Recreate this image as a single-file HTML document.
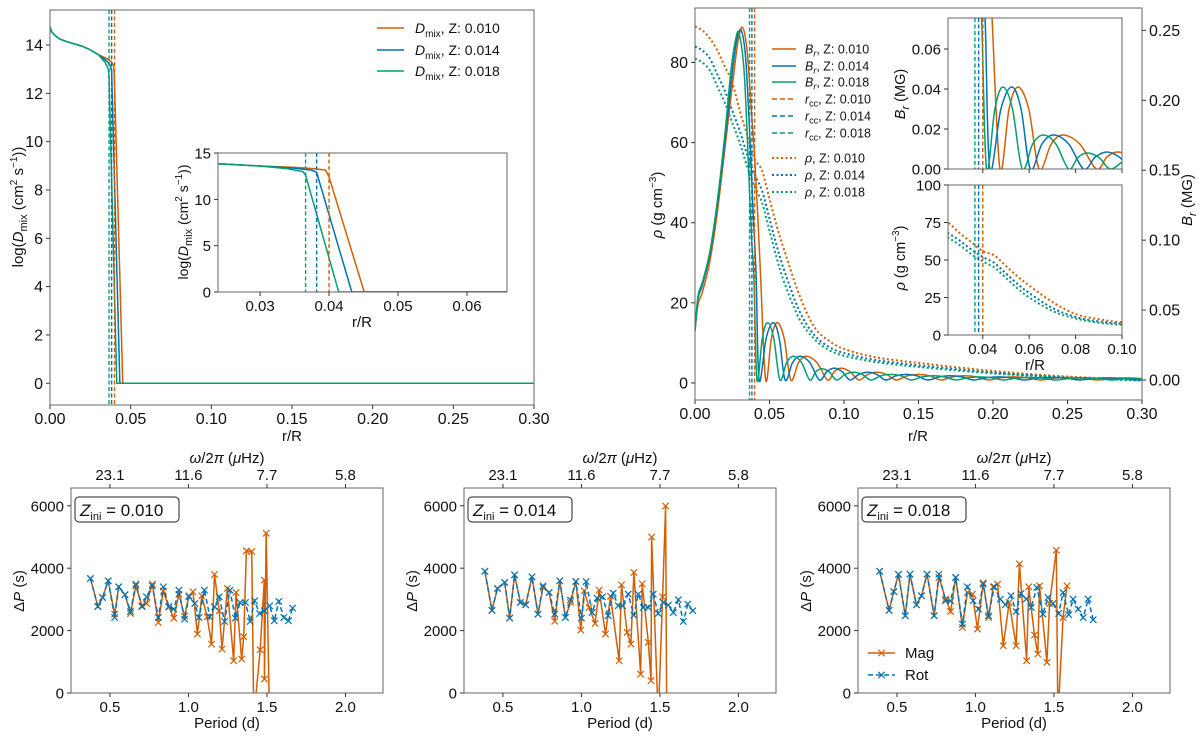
<!DOCTYPE html>
<html><head><meta charset="utf-8"><style>
html,body{margin:0;padding:0;background:#fff}
svg{display:block;font-family:"Liberation Sans","DejaVu Sans",sans-serif}
</style></head><body>
<svg id="fig" width="1200" height="739" viewBox="0 0 1200 739" xmlns="http://www.w3.org/2000/svg"></svg>
<script>
// ---------- DATA ----------
const zLabels = ["0.010","0.014","0.018"];
const rcc = [0.0400, 0.0382, 0.0366];
// mixing profiles
const dmixR010 = [0,0.001,0.003,0.006,0.01,0.015,0.02,0.025,0.03,0.035,0.038,0.0395,0.0400,0.0451,0.30];
const dmixV010 = [14.75,14.55,14.4,14.25,14.15,14.05,13.95,13.8,13.6,13.45,13.3,13.15,12.4,0,0];
const dmixR014 = [0,0.001,0.003,0.006,0.01,0.015,0.02,0.025,0.03,0.035,0.0375,0.0382,0.0433,0.30];
const dmixV014 = [14.75,14.55,14.4,14.25,14.15,14.05,13.95,13.8,13.6,13.35,13.15,12.9,0,0];
const dmixR018 = [0,0.001,0.003,0.006,0.01,0.015,0.02,0.025,0.03,0.034,0.0362,0.0366,0.0414,0.30];
const dmixV018 = [14.75,14.55,14.4,14.25,14.15,14.05,13.95,13.8,13.6,13.3,13.0,12.6,0,0];
// density
const rhoR = [0,0.005,0.01,0.015,0.02,0.025,0.03,0.035,0.04,0.045,0.05,0.055,0.06,0.07,0.08,0.09,0.10,0.12,0.15,0.20,0.25,0.30];
const rho010 = [89,88,86,83,79,75,68,62,56,53,46,39,33,22,14,10.5,8.5,6.5,5,3,1.6,0.8];
const rho014 = [84,83,81,77,73,68,63,57,52,48,41,34,28,18,12,9,7.5,5.8,4.4,2.6,1.4,0.7];
const rho018 = [81,80,78,74,70,65,60,54,49,45,38,31,25,16,11,8.2,6.8,5.3,4,2.4,1.3,0.6];
// radial field (MG)
const brR010 = [0,0.002,0.005,0.01,0.015,0.02,0.025,0.029,0.032,0.035,0.038,0.040,0.042,0.044,0.0474,0.0513,0.0552,0.0598,0.0643,0.0695,0.0746,0.0818,0.089,0.0935,0.098,0.104,0.110,0.116,0.122,0.1285,0.135,0.1425,0.150,0.1575,0.165,0.173,0.181,0.189,0.197,0.2055,0.214,0.223,0.232,0.241,0.25,0.26,0.27,0.28,0.29,0.30];
const brV010 = [0.035,0.054,0.063,0.085,0.12,0.165,0.21,0.243,0.252,0.235,0.19,0.16,0.12,0.075,0,0.03,0.041,0.03,0,0.0125,0.017,0.0125,0,0.006,0.0085,0.006,0,0.004,0.0055,0.004,0,0.003,0.004,0.003,0,0.0022,0.003,0.0022,0,0.0016,0.0022,0.0016,0,0.0013,0.0018,0.0013,0,0.0011,0.0015,0.0011];
const brR014 = [0,0.002,0.005,0.01,0.015,0.02,0.025,0.028,0.031,0.034,0.037,0.039,0.041,0.043,0.0478,0.0525,0.0565,0.0605,0.0655,0.0705,0.077,0.0835,0.0885,0.0935,0.0988,0.104,0.110,0.116,0.122,0.128,0.135,0.142,0.149,0.156,0.164,0.1715,0.179,0.187,0.1955,0.204,0.2125,0.221,0.230,0.2395,0.249,0.258,0.2675,0.277,0.2865,0.296,0.30];
const brV014 = [0.035,0.058,0.068,0.09,0.125,0.17,0.22,0.243,0.25,0.23,0.17,0.12,0.075,0,0.03,0.041,0.03,0,0.0125,0.017,0.0125,0,0.006,0.0085,0.006,0,0.004,0.0055,0.004,0,0.003,0.004,0.003,0,0.0022,0.003,0.0022,0,0.0016,0.0022,0.0016,0,0.0013,0.0018,0.0013,0,0.0011,0.0015,0.0011,0,0.0004];
const brR018 = [0,0.002,0.005,0.01,0.015,0.02,0.024,0.027,0.0295,0.033,0.036,0.038,0.0395,0.0416,0.0452,0.0487,0.0528,0.057,0.0615,0.066,0.0715,0.077,0.081,0.085,0.09,0.095,0.1008,0.1065,0.1122,0.118,0.1248,0.1315,0.1382,0.145,0.1525,0.16,0.1675,0.175,0.183,0.191,0.199,0.207,0.2158,0.2245,0.2333,0.242,0.2515,0.261,0.2705,0.28,0.29,0.30];
const brV018 = [0.035,0.06,0.07,0.092,0.128,0.175,0.22,0.242,0.248,0.22,0.15,0.1,0.075,0,0.03,0.041,0.03,0,0.0125,0.017,0.0125,0,0.0058,0.008,0.0058,0,0.004,0.0055,0.004,0,0.003,0.004,0.003,0,0.0022,0.003,0.0022,0,0.0016,0.0022,0.0016,0,0.0013,0.0018,0.0013,0,0.0011,0.0015,0.0011,0,0.0012,0.0008];
// period spacings
const p1RotP = [0.376,0.423,0.453,0.489,0.530,0.556,0.596,0.631,0.665,0.704,0.733,0.770,0.808,0.840,0.875,0.907,0.939,0.975,1.003,1.040,1.067,1.102,1.136,1.166,1.196,1.230,1.264,1.299,1.329,1.363,1.393,1.421,1.453,1.483,1.517,1.547,1.575,1.607,1.637,1.663];
const p1RotD = [3669,2773,3061,3595,2421,3403,3147,2613,3488,2773,3083,3435,2421,3403,2773,2688,3296,2368,3083,2869,2421,3296,2443,2763,3083,2293,3296,2400,2901,2901,2293,2955,2549,2635,2795,2315,2933,2421,2315,2720];
const p1MagP = [0.376,0.423,0.453,0.489,0.530,0.556,0.596,0.631,0.665,0.704,0.733,0.770,0.808,0.840,0.875,0.907,0.939,0.975,1.003,1.029,1.057,1.085,1.119,1.147,1.166,1.196,1.214,1.248,1.288,1.303,1.339,1.352,1.369,1.403,1.416,1.457,1.483,1.484,1.495,1.516];
const p1MagD = [3669,2773,3061,3595,2528,3403,3147,2549,3435,2795,2869,3488,2261,3264,2752,2400,3168,2464,3115,3243,1888,3115,2443,1568,3797,2635,1408,3349,1035,3221,1088,1803,4555,4533,-800,1387,3616,448,5120,-800];
const p2RotP = [0.385,0.43,0.465,0.511,0.543,0.574,0.611,0.645,0.685,0.723,0.755,0.794,0.830,0.862,0.898,0.930,0.964,1.0,1.030,1.068,1.100,1.134,1.170,1.202,1.234,1.262,1.298,1.334,1.362,1.394,1.426,1.457,1.489,1.521,1.553,1.585,1.617,1.649,1.677,1.709];
const p2RotD = [3900,2650,3350,3541,2400,3787,2901,2827,3723,2528,3435,3221,2528,3595,2421,2976,3573,2400,3573,2581,3040,3083,2475,3200,2795,2795,3168,2496,3168,2741,2741,3168,2549,2901,2816,2581,2987,2293,2848,2635];
const p2MagP = [0.385,0.43,0.465,0.511,0.543,0.574,0.611,0.645,0.685,0.723,0.755,0.794,0.830,0.862,0.898,0.930,0.964,0.996,1.017,1.049,1.087,1.113,1.153,1.185,1.240,1.255,1.291,1.315,1.334,1.377,1.387,1.426,1.443,1.447,1.489,1.517,1.536,1.543];
const p2MagD = [3900,2650,3350,3541,2400,3787,2901,2827,3723,2528,3380,3221,2300,3595,2421,2901,3573,2016,3275,2741,2229,3296,1888,3100,1035,3467,1941,1568,3861,603,3499,1621,395,4998,-800,3083,5995,-800];
const p3RotP = [0.39,0.45,0.48,0.51,0.553,0.583,0.624,0.656,0.692,0.737,0.767,0.810,0.842,0.874,0.917,0.949,0.985,1.019,1.049,1.083,1.120,1.158,1.190,1.226,1.259,1.290,1.323,1.355,1.391,1.430,1.462,1.494,1.530,1.558,1.594,1.622,1.654,1.686,1.718,1.750];
const p3RotD = [3900,2650,3250,3800,2475,3808,2827,3115,3808,2475,3808,2955,2955,3701,2208,3403,2955,2688,3488,2475,3403,3008,2827,3115,2613,3189,3008,2741,3381,2528,3061,2869,2549,3221,2507,3008,2688,2421,3008,2347];
const p3MagP = [0.39,0.45,0.48,0.51,0.553,0.583,0.624,0.656,0.692,0.737,0.767,0.810,0.842,0.874,0.917,0.949,0.981,1.013,1.049,1.083,1.113,1.141,1.177,1.215,1.259,1.280,1.326,1.339,1.376,1.397,1.408,1.455,1.472,1.515,1.525,1.558,1.583];
const p3MagD = [3900,2650,3250,3800,2475,3808,2827,3115,3808,2475,3700,3008,2613,3701,2101,3221,3168,2048,3530,2421,3403,3488,1515,2901,1515,4140,1035,3403,1856,1248,3435,982,2869,4576,-800,2421,3435];
const xTicksTop = [0,0.05,0.10,0.15,0.20,0.25,0.30];
const bottomTicks = [0.5,1.0,1.5,2.0];
const freqLabels = ["23.1","11.6","7.7","5.8"];

// ---------- HELPERS ----------
const NS="http://www.w3.org/2000/svg";
const svg=document.getElementById('fig');
const C=["#d55e00","#0173b2","#029e73"];
let clipN=0;
function el(tag,attrs,parent){const e=document.createElementNS(NS,tag);for(const k in attrs)e.setAttribute(k,attrs[k]);(parent||svg).appendChild(e);return e;}
function mkAx(px0,px1,py0,py1,x0,x1,y0,y1){
  const id='clip'+(clipN++);
  const cp=el('clipPath',{id:id});el('rect',{x:px0,y:py0,width:px1-px0,height:py1-py0},cp);
  return {px0,px1,py0,py1,id,
    x:v=>px0+(v-x0)/(x1-x0)*(px1-px0),
    y:v=>py1-(v-y0)/(y1-y0)*(py1-py0)};
}
function smoothPath(pts){
  let d='M'+pts[0][0].toFixed(2)+','+pts[0][1].toFixed(2);
  for(let i=0;i<pts.length-1;i++){
    const p0=pts[Math.max(0,i-1)],p1=pts[i],p2=pts[i+1],p3=pts[Math.min(pts.length-1,i+2)];
    const c1=[p1[0]+(p2[0]-p0[0])/6,p1[1]+(p2[1]-p0[1])/6];
    const c2=[p2[0]-(p3[0]-p1[0])/6,p2[1]-(p3[1]-p1[1])/6];
    d+=' C'+c1[0].toFixed(2)+','+c1[1].toFixed(2)+' '+c2[0].toFixed(2)+','+c2[1].toFixed(2)+' '+p2[0].toFixed(2)+','+p2[1].toFixed(2);
  }
  return d;
}
function linePath(pts){return pts.map((p,i)=>(i?'L':'M')+p[0].toFixed(2)+','+p[1].toFixed(2)).join(' ');}
function series(a,xs,ys,color,opts,name){
  const pts=xs.map((v,i)=>[a.x(v),a.y(ys[i])]);
  const p=el('path',{d:opts.smooth?smoothPath(pts):linePath(pts),fill:'none',stroke:color,'stroke-width':opts.w||1.5,'stroke-dasharray':opts.dash||'none','clip-path':'url(#'+a.id+')'});
  
  
  return pts;
}
function vline(a,v,color,name){
  const l=el('line',{x1:a.x(v),x2:a.x(v),y1:a.py0,y2:a.py1,stroke:color,'stroke-width':1.4,'stroke-dasharray':'4,2.5'});
  
  
}
function frame(a,name){
  const r=el('rect',{x:a.px0,y:a.py0,width:a.px1-a.px0,height:a.py1-a.py0,fill:'none',stroke:'#666','stroke-width':1});
  
  
}
function txt(x,y,s,o){o=o||{};const t=el('text',{x:x,y:y,'font-size':o.fs||15,'text-anchor':o.anchor||'middle',fill:'#111'});
  if(o.rot)t.setAttribute('transform','rotate(-90 '+x+' '+y+')');t.innerHTML=s;
  
  return t;}
function xTicks(a,vals,labels,fs,top){
  vals.forEach((v,i)=>{const x=a.x(v);
    el('line',{x1:x,x2:x,y1:top?a.py0:a.py1,y2:top?a.py0-4:a.py1+4,stroke:'#333'});
    if(labels)txt(x,top?a.py0-8:a.py1+19,labels[i],{fs:fs,name:'x-tick-label'});});
}
function yTicks(a,vals,labels,fs,right){
  vals.forEach((v,i)=>{const y=a.y(v);
    el('line',{x1:right?a.px1:a.px0,x2:right?a.px1+4:a.px0-4,y1:y,y2:y,stroke:'#333'});
    if(labels)txt(right?a.px1+7:a.px0-7,y+5.5,labels[i],{fs:fs,anchor:right?'start':'end',name:'y-tick-label'});});
}

// ---------- TOP LEFT ----------
const dR=[dmixR010,dmixR014,dmixR018],dV=[dmixV010,dmixV014,dmixV018];
const A1=mkAx(50,534,10,405,0,0.30,-0.9,15.45);
for(let k=0;k<3;k++)series(A1,dR[k],dV[k],C[k],{w:1.5},'dmix-line-z'+zLabels[k]);
for(let k=0;k<3;k++)vline(A1,rcc[k],C[k],'rcc-line-z'+zLabels[k]);
frame(A1,'dmix-axes');
xTicks(A1,xTicksTop,xTicksTop.map(v=>v.toFixed(2)),16);
yTicks(A1,[0,2,4,6,8,10,12,14],['0','2','4','6','8','10','12','14'],16);
txt(292,441,'r/R',{fs:15,name:'x-axis-title'});
txt(23,207,'log(<tspan font-style="italic">D</tspan><tspan font-size="11" dy="4">mix</tspan><tspan dy="-4"> (cm</tspan><tspan font-size="10" dy="-6">2</tspan><tspan dy="6"> s</tspan><tspan font-size="10" dy="-6">−1</tspan><tspan dy="6">))</tspan>',{fs:15,rot:true,name:'y-axis-title'});
// legend
[28,50,71].forEach((y,k)=>{el('line',{x1:377,x2:404,y1:y,y2:y,stroke:C[k],'stroke-width':1.5});
  txt(415,y+5,'<tspan font-style="italic">D</tspan><tspan font-size="10" dy="4">mix</tspan><tspan dy="-4">, Z: '+zLabels[k]+'</tspan>',{fs:14,anchor:'start',name:'legend-entry'});});
// inset
const A1i=mkAx(218,507,153,292,0.0239,0.0658,0,15);
el('rect',{x:218,y:153,width:289,height:139,fill:'#fff'});
for(let k=0;k<3;k++)series(A1i,dR[k],dV[k],C[k],{w:1.5},'inset-dmix-line-z'+zLabels[k]);
for(let k=0;k<3;k++)vline(A1i,rcc[k],C[k],'inset-rcc-line-z'+zLabels[k]);
frame(A1i,'dmix-inset-axes');
xTicks(A1i,[0.03,0.04,0.05,0.06],['0.03','0.04','0.05','0.06'],15);
yTicks(A1i,[0,5,10,15],['0','5','10','15'],15);
txt(362,327,'r/R',{fs:15,name:'inset-x-axis-title'});
txt(188,222,'log(<tspan font-style="italic">D</tspan><tspan font-size="11" dy="4">mix</tspan><tspan dy="-4"> (cm</tspan><tspan font-size="10" dy="-6">2</tspan><tspan dy="6"> s</tspan><tspan font-size="10" dy="-6">−1</tspan><tspan dy="6">))</tspan>',{fs:14,rot:true,name:'inset-y-axis-title'});

// ---------- TOP RIGHT ----------
const rhoV=[rho010,rho014,rho018],brR=[brR010,brR014,brR018],brV=[brV010,brV014,brV018];
const A2=mkAx(695,1142,8,400,0,0.30,-4.25,93.6);
const A2r=mkAx(695,1142,8,400,0,0.30,-0.0143,0.266);
for(let k=0;k<3;k++)series(A2,rhoR,rhoV[k],C[k],{w:2,dash:'2,2.5',smooth:true},'rho-line-z'+zLabels[k]);
for(let k=0;k<3;k++)series(A2r,brR[k],brV[k],C[k],{w:1.5,smooth:true},'br-line-z'+zLabels[k]);
for(let k=0;k<3;k++)vline(A2,rcc[k],C[k],'rcc-line-right-z'+zLabels[k]);
frame(A2,'rho-br-axes');
xTicks(A2,xTicksTop,xTicksTop.map(v=>v.toFixed(2)),16);
yTicks(A2,[0,20,40,60,80],['0','20','40','60','80'],16);
yTicks(A2r,[0,0.05,0.10,0.15,0.20,0.25],['0.00','0.05','0.10','0.15','0.20','0.25'],16,true);
txt(918,441,'r/R',{fs:15,name:'x-axis-title-right'});
txt(662,205,'<tspan font-style="italic">ρ</tspan> (g cm<tspan font-size="10" dy="-6">−3</tspan><tspan dy="6">)</tspan>',{fs:15,rot:true,name:'rho-axis-title'});
txt(1192,200,'<tspan font-style="italic">B</tspan><tspan font-size="11" font-style="italic" dy="4">r</tspan><tspan dy="-4"> (MG)</tspan>',{fs:15,rot:true,name:'br-axis-title'});
// legend
const legY=[49,66,82,99,116,133,158,175,192];
const legLbl=['<tspan font-style="italic">B</tspan><tspan font-size="9" font-style="italic" dy="3">r</tspan><tspan dy="-3">, Z: ','<tspan font-style="italic">r</tspan><tspan font-size="9" dy="3">cc</tspan><tspan dy="-3">, Z: ','<tspan font-style="italic">ρ</tspan><tspan>, Z: '];
const legDash=['none','5,3','2,2.5'];
legY.forEach((y,i)=>{const g=Math.floor(i/3),k=i%3;
  el('line',{x1:772,x2:796,y1:y,y2:y,stroke:C[k],'stroke-width':g==2?2:1.5,'stroke-dasharray':legDash[g]});
  txt(805,y+4.5,legLbl[g]+zLabels[k]+'</tspan>',{fs:12.5,anchor:'start',name:'legend-entry'});});
// upper inset
const A3=mkAx(948,1122,18,169,0.025,0.10,0,0.0755);
el('rect',{x:948,y:18,width:174,height:151,fill:'#fff'});
for(let k=0;k<3;k++)series(A3,brR[k],brV[k],C[k],{w:1.5,smooth:true},'inset-br-line-z'+zLabels[k]);
for(let k=0;k<3;k++)vline(A3,rcc[k],C[k],'inset-br-rcc-z'+zLabels[k]);
frame(A3,'br-inset-axes');
xTicks(A3,[0.04,0.06,0.08,0.10],null,15);
yTicks(A3,[0,0.02,0.04,0.06],['0.00','0.02','0.04','0.06'],15);
txt(905,94,'<tspan font-style="italic">B</tspan><tspan font-size="11" font-style="italic" dy="4">r</tspan><tspan dy="-4"> (MG)</tspan>',{fs:14.5,rot:true,name:'inset-br-axis-title'});
// lower inset
const A4=mkAx(948,1122,185,335,0.025,0.10,0,100);
el('rect',{x:948,y:185,width:174,height:150,fill:'#fff'});
for(let k=0;k<3;k++)series(A4,rhoR,rhoV[k],C[k],{w:2,dash:'2,2.5',smooth:true},'inset-rho-line-z'+zLabels[k]);
for(let k=0;k<3;k++)vline(A4,rcc[k],C[k],'inset-rho-rcc-z'+zLabels[k]);
frame(A4,'rho-inset-axes');
xTicks(A4,[0.04,0.06,0.08,0.10],['0.04','0.06','0.08','0.10'],15);
yTicks(A4,[0,25,50,75,100],['0','25','50','75','100'],15);
txt(1035,370,'r/R',{fs:15,name:'inset-x-axis-title-right'});
txt(905,258,'<tspan font-style="italic">ρ</tspan> (g cm<tspan font-size="10" dy="-6">−3</tspan><tspan dy="6">)</tspan>',{fs:14.5,rot:true,name:'inset-rho-axis-title'});

// ---------- BOTTOM ----------
const panels=[[p1MagP,p1MagD,p1RotP,p1RotD,71,'0.010'],[p2MagP,p2MagD,p2RotP,p2RotD,464,'0.014'],[p3MagP,p3MagD,p3RotP,p3RotD,858,'0.018']];
function marker(x,y,c,name){const s=3.2;
  const p=el('path',{d:`M${x-s},${y-s}L${x+s},${y+s}M${x-s},${y+s}L${x+s},${y-s}`,stroke:c,'stroke-width':1.2,fill:'none'});
  
  }
panels.forEach((P,pi)=>{
  const L=P[4];const A=mkAx(L,L+312,488,693,0.252,2.239,0,6570);
  const mp=series(A,P[0],P[1],C[0],{w:1.5},'mag-line-'+P[5]);
  mp.forEach(q=>{if(q[1]<=693)marker(q[0],q[1],C[0],'mag-marker');});
  const rp=series(A,P[2],P[3],C[1],{w:1.5,dash:'5,3'},'rot-line-'+P[5]);
  rp.forEach(q=>{if(q[1]<=693)marker(q[0],q[1],C[1],'rot-marker');});
  frame(A,'period-spacing-axes-'+P[5]);
  xTicks(A,bottomTicks,bottomTicks.map(v=>v.toFixed(1)),15);
  xTicks(A,bottomTicks,freqLabels,15,true);
  yTicks(A,[0,2000,4000,6000],['0','2000','4000','6000'],15);
  txt(L+156,728,'Period (d)',{fs:15,name:'x-axis-title-period'});
  txt(L+156,463,'<tspan font-style="italic">ω</tspan>/2<tspan font-style="italic">π</tspan> (<tspan font-style="italic">μ</tspan>Hz)',{fs:15,name:'x-axis-title-frequency'});
  txt(L-47,591,'Δ<tspan font-style="italic">P</tspan> (s)',{fs:15,rot:true,name:'y-axis-title-dp'});
  const b=el('rect',{x:L+4,y:497,width:104,height:25,rx:4,fill:'#fff',stroke:'#222','stroke-width':1});
  
  
  txt(L+9,516,'<tspan font-style="italic">Z</tspan><tspan font-size="11" dy="4">ini</tspan><tspan dy="-4"> = '+P[5]+'</tspan>',{fs:17,anchor:'start',name:'zini-label'});
});
// bottom legend
[[653,'none',C[0],'Mag'],[675,'5,3',C[1],'Rot']].forEach(r=>{
  el('line',{x1:868,x2:895,y1:r[0],y2:r[0],stroke:r[2],'stroke-width':1.5,'stroke-dasharray':r[1]});
  marker(881.5,r[0],r[2],'legend-marker');
  txt(905,r[0]+5,r[3],{fs:15,anchor:'start',name:'legend-entry-'+r[3].toLowerCase()});
});
</script>
</body></html>
